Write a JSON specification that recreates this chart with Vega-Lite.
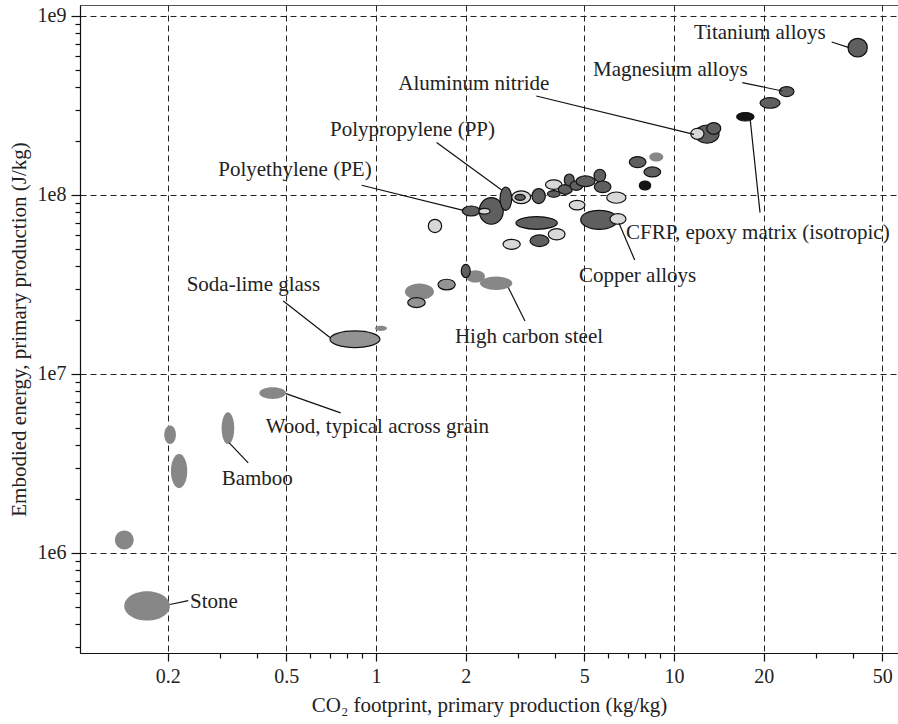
{
  "$schema": "https://vega.github.io/schema/vega-lite/v6.json",
  "width": 818,
  "height": 648,
  "autosize": {"type": "none"},
  "padding": {"left": 80, "top": 5, "right": 0, "bottom": 71},
  "background": "white",
  "config": {
    "view": {"stroke": "#555", "strokeWidth": 1},
    "font": "Liberation Serif"
  },
  "datasets": {
    "materials": [
      {"group": "natural", "co2_lo": 0.143, "co2_hi": 0.2035, "e_lo": 4.19e5, "e_hi": 6.11e5},
      {"group": "natural", "co2_lo": 0.1331, "co2_hi": 0.1538, "e_lo": 1.045e6, "e_hi": 1.334e6},
      {"group": "natural", "co2_lo": 0.1948, "co2_hi": 0.2132, "e_lo": 4.06e6, "e_hi": 5.15e6},
      {"group": "natural", "co2_lo": 0.2051, "co2_hi": 0.2327, "e_lo": 2.299e6, "e_hi": 3.573e6},
      {"group": "natural", "co2_lo": 0.3035, "co2_hi": 0.3345, "e_lo": 4.06e6, "e_hi": 6.11e6},
      {"group": "natural", "co2_lo": 0.4059, "co2_hi": 0.499, "e_lo": 7.25e6, "e_hi": 8.43e6},
      {"group": "glass", "co2_lo": 0.7008, "co2_hi": 1.031, "e_lo": 1.405e7, "e_hi": 1.739e7},
      {"group": "natural", "co2_lo": 0.992, "co2_hi": 1.089, "e_lo": 1.739e7, "e_hi": 1.859e7},
      {"group": "natural", "co2_lo": 1.251, "co2_hi": 1.565, "e_lo": 2.591e7, "e_hi": 3.199e7},
      {"group": "glass", "co2_lo": 1.278, "co2_hi": 1.463, "e_lo": 2.35e7, "e_hi": 2.672e7},
      {"group": "glass", "co2_lo": 1.615, "co2_hi": 1.845, "e_lo": 2.947e7, "e_hi": 3.381e7},
      {"group": "natural", "co2_lo": 2.004, "co2_hi": 2.321, "e_lo": 3.24e7, "e_hi": 3.796e7},
      {"group": "metals & polymers", "co2_lo": 1.933, "co2_hi": 2.072, "e_lo": 3.455e7, "e_hi": 4.1e7},
      {"group": "natural", "co2_lo": 2.234, "co2_hi": 2.867, "e_lo": 2.947e7, "e_hi": 3.5e7},
      {"group": "ceramics", "co2_lo": 1.498, "co2_hi": 1.661, "e_lo": 6.166e7, "e_hi": 7.313e7},
      {"group": "metals & polymers", "co2_lo": 1.948, "co2_hi": 2.234, "e_lo": 7.63e7, "e_hi": 8.678e7},
      {"group": "metals & polymers", "co2_lo": 2.222, "co2_hi": 2.674, "e_lo": 6.86e7, "e_hi": 9.67e7},
      {"group": "ceramics", "co2_lo": 2.216, "co2_hi": 2.413, "e_lo": 7.83e7, "e_hi": 8.427e7},
      {"group": "metals & polymers", "co2_lo": 2.607, "co2_hi": 2.854, "e_lo": 8.21e7, "e_hi": 1.108e8},
      {"group": "ceramics", "co2_lo": 2.854, "co2_hi": 3.305, "e_lo": 8.95e7, "e_hi": 1.053e8},
      {"group": "metals & polymers", "co2_lo": 2.927, "co2_hi": 3.17, "e_lo": 9.34e7, "e_hi": 1.009e8},
      {"group": "metals & polymers", "co2_lo": 3.339, "co2_hi": 3.7, "e_lo": 8.95e7, "e_hi": 1.086e8},
      {"group": "metals & polymers", "co2_lo": 2.95, "co2_hi": 4.059, "e_lo": 6.43e7, "e_hi": 7.57e7},
      {"group": "ceramics", "co2_lo": 3.787, "co2_hi": 4.308, "e_lo": 5.61e7, "e_hi": 6.49e7},
      {"group": "metals & polymers", "co2_lo": 3.287, "co2_hi": 3.807, "e_lo": 5.15e7, "e_hi": 5.98e7},
      {"group": "ceramics", "co2_lo": 2.668, "co2_hi": 3.049, "e_lo": 4.97e7, "e_hi": 5.655e7},
      {"group": "ceramics", "co2_lo": 3.706, "co2_hi": 4.209, "e_lo": 1.076e8, "e_hi": 1.213e8},
      {"group": "metals & polymers", "co2_lo": 3.763, "co2_hi": 4.144, "e_lo": 9.71e7, "e_hi": 1.058e8},
      {"group": "metals & polymers", "co2_lo": 4.09, "co2_hi": 4.557, "e_lo": 1.009e8, "e_hi": 1.143e8},
      {"group": "metals & polymers", "co2_lo": 4.284, "co2_hi": 4.628, "e_lo": 1.123e8, "e_hi": 1.31e8},
      {"group": "metals & polymers", "co2_lo": 4.477, "co2_hi": 4.939, "e_lo": 1.062e8, "e_hi": 1.197e8},
      {"group": "metals & polymers", "co2_lo": 4.69, "co2_hi": 5.431, "e_lo": 1.114e8, "e_hi": 1.277e8},
      {"group": "metals & polymers", "co2_lo": 5.389, "co2_hi": 5.899, "e_lo": 1.182e8, "e_hi": 1.392e8},
      {"group": "metals & polymers", "co2_lo": 5.402, "co2_hi": 6.146, "e_lo": 1.031e8, "e_hi": 1.197e8},
      {"group": "ceramics", "co2_lo": 5.945, "co2_hi": 6.901, "e_lo": 8.99e7, "e_hi": 1.039e8},
      {"group": "ceramics", "co2_lo": 4.453, "co2_hi": 5.027, "e_lo": 8.25e7, "e_hi": 9.34e7},
      {"group": "metals & polymers", "co2_lo": 4.864, "co2_hi": 6.474, "e_lo": 6.43e7, "e_hi": 8.21e7},
      {"group": "ceramics", "co2_lo": 6.099, "co2_hi": 6.901, "e_lo": 6.86e7, "e_hi": 7.87e7},
      {"group": "metals & polymers", "co2_lo": 7.079, "co2_hi": 8.054, "e_lo": 1.423e8, "e_hi": 1.639e8},
      {"group": "natural", "co2_lo": 8.263, "co2_hi": 9.207, "e_lo": 1.537e8, "e_hi": 1.726e8},
      {"group": "metals & polymers", "co2_lo": 7.93, "co2_hi": 9.024, "e_lo": 1.261e8, "e_hi": 1.434e8},
      {"group": "composites", "co2_lo": 7.648, "co2_hi": 8.353, "e_lo": 1.066e8, "e_hi": 1.197e8},
      {"group": "metals & polymers", "co2_lo": 11.76, "co2_hi": 14.16, "e_lo": 1.945e8, "e_hi": 2.461e8},
      {"group": "ceramics", "co2_lo": 11.38, "co2_hi": 12.61, "e_lo": 2.047e8, "e_hi": 2.358e8},
      {"group": "metals & polymers", "co2_lo": 12.88, "co2_hi": 14.35, "e_lo": 2.183e8, "e_hi": 2.538e8},
      {"group": "composites", "co2_lo": 16.23, "co2_hi": 18.55, "e_lo": 2.591e8, "e_hi": 2.886e8},
      {"group": "metals & polymers", "co2_lo": 19.44, "co2_hi": 22.69, "e_lo": 3.051e8, "e_hi": 3.5e8},
      {"group": "metals & polymers", "co2_lo": 22.57, "co2_hi": 25.27, "e_lo": 3.546e8, "e_hi": 4.033e8},
      {"group": "metals & polymers", "co2_lo": 38.36, "co2_hi": 44.54, "e_lo": 5.902e8, "e_hi": 7.506e8}
    ],
    "leaders": [
      {"x1": 33.82, "y1": 7.155e8, "x2": 38.66, "y2": 6.66e8},
      {"x1": 16.95, "y1": 4.245e8, "x2": 23.09, "y2": 3.81e8},
      {"x1": 3.451, "y1": 3.574e8, "x2": 11.67, "y2": 2.183e8},
      {"x1": 1.598, "y1": 1.962e8, "x2": 2.641, "y2": 1.066e8},
      {"x1": 0.8952, "y1": 1.133e8, "x2": 1.963, "y2": 8.21e7},
      {"x1": 0.4886, "y1": 2.558e7, "x2": 0.7008, "y2": 1.597e7},
      {"x1": 3.162, "y1": 1.978e7, "x2": 2.78, "y2": 3.039e7},
      {"x1": 7.381, "y1": 4.335e7, "x2": 6.54, "y2": 6.95e7},
      {"x1": 17.99, "y1": 2.706e8, "x2": 19.44, "y2": 7.97e7},
      {"x1": 0.499, "y1": 7.77e6, "x2": 0.761, "y2": 6.056e6},
      {"x1": 0.3218, "y1": 4.118e6, "x2": 0.3727, "y2": 3.183e6},
      {"x1": 0.2036, "y1": 5.15e5, "x2": 0.2345, "y2": 5.42e5}
    ],
    "labels": [
      {"label": "Titanium alloys", "x": 11.67, "y": 7.41e8},
      {"label": "Magnesium alloys", "x": 5.348, "y": 4.603e8},
      {"label": "Aluminum nitride", "x": 1.188, "y": 3.87e8},
      {"label": "Polypropylene (PP)", "x": 0.7008, "y": 2.128e8},
      {"label": "Polyethylene (PE)", "x": 0.2957, "y": 1.272e8},
      {"label": "Soda-lime glass", "x": 0.2316, "y": 2.897e7},
      {"label": "High carbon steel", "x": 1.841, "y": 1.484e7},
      {"label": "Copper alloys", "x": 4.8, "y": 3.253e7},
      {"label": "CFRP, epoxy matrix (isotropic)", "x": 6.901, "y": 5.655e7},
      {"label": "Wood, typical across grain", "x": 0.4265, "y": 4.665e6},
      {"label": "Bamboo", "x": 0.3035, "y": 2.389e6},
      {"label": "Stone", "x": 0.2376, "y": 4.91e5}
    ]
  },
  "layer": [
    {
      "data": {"name": "materials"},
      "mark": {
        "type": "point",
        "filled": true,
        "opacity": 1,
        "size": 4,
        "strokeWidth": 1.2,
        "shape": {"expr": "'M0,' + (scale('y', datum.e_lo) - scale('y', datum.e_hi)) / 2 + ' A' + (scale('x', datum.co2_hi) - scale('x', datum.co2_lo)) / 2 + ',' + (scale('y', datum.e_lo) - scale('y', datum.e_hi)) / 2 + ' 0 1 0 ' + (scale('x', datum.co2_hi) - scale('x', datum.co2_lo)) + ',' + (scale('y', datum.e_lo) - scale('y', datum.e_hi)) / 2 + ' A' + (scale('x', datum.co2_hi) - scale('x', datum.co2_lo)) / 2 + ',' + (scale('y', datum.e_lo) - scale('y', datum.e_hi)) / 2 + ' 0 1 0 0,' + (scale('y', datum.e_lo) - scale('y', datum.e_hi)) / 2 + ' Z'"}
      },
      "encoding": {
        "x": {
          "field": "co2_lo", "type": "quantitative",
          "scale": {"type": "log", "domain": [0.1016, 56.45], "nice": false},
          "axis": {
            "orient": "bottom",
            "values": [0.2, 0.5, 1, 2, 5, 10, 20, 50],
            "format": "~g",
            "grid": true, "gridDash": [6, 4], "gridColor": "#222", "gridWidth": 1, "gridOpacity": 1,
            "tickSize": 8, "tickColor": "#111", "tickWidth": 1.2,
            "domainColor": "#111", "domainWidth": 1.2,
            "labelFont": "Liberation Serif", "labelFontSize": 20, "labelColor": "#222", "labelPadding": 5, "labelFlush": false,
            "title": "CO₂ footprint, primary production (kg/kg)",
            "titleFont": "Liberation Serif", "titleFontSize": 21, "titleFontWeight": "normal", "titleColor": "#222", "titlePadding": 8
          }
        },
        "y": {
          "field": "e_hi", "type": "quantitative",
          "scale": {"type": "log", "domain": [2.76e5, 1.152e9], "nice": false},
          "axis": {
            "orient": "left",
            "values": [1e6, 1e7, 1e8, 1e9],
            "labelExpr": "'1e' + round(log(datum.value) / LN10)",
            "grid": true, "gridDash": [6, 4], "gridColor": "#222", "gridWidth": 1, "gridOpacity": 1,
            "tickSize": 9, "tickColor": "#111", "tickWidth": 1.2,
            "domainColor": "#111", "domainWidth": 1.2,
            "labelFont": "Liberation Serif", "labelFontSize": 20, "labelColor": "#222", "labelPadding": 5, "labelFlush": false,
            "title": "Embodied energy, primary production (J/kg)",
            "titleFont": "Liberation Serif", "titleFontSize": 21, "titleFontWeight": "normal", "titleColor": "#222", "titlePadding": 8
          }
        },
        "fill": {
          "field": "group", "type": "nominal", "legend": null,
          "scale": {"domain": ["metals & polymers", "ceramics", "composites", "natural", "glass"],
                    "range": ["#5f5f5f", "#d8d8d8", "#141414", "#878787", "#939393"]}
        },
        "stroke": {
          "field": "group", "type": "nominal", "legend": null,
          "scale": {"domain": ["metals & polymers", "ceramics", "composites", "natural", "glass"],
                    "range": ["#111111", "#111111", "#111111", "transparent", "#111111"]}
        }
      }
    },
    {
      "data": {"name": "leaders"},
      "mark": {"type": "rule", "color": "#111", "strokeWidth": 1.2},
      "encoding": {
        "x": {
          "field": "x1", "type": "quantitative",
          "axis": {
            "orient": "bottom",
            "values": [0.3, 0.4, 0.6, 0.7, 0.8, 0.9, 3, 4, 6, 7, 8, 9, 30, 40],
            "labels": false, "grid": false, "domain": false, "title": null,
            "tickSize": 5, "tickColor": "#111", "tickWidth": 1.2
          }
        },
        "x2": {"field": "x2"},
        "y": {
          "field": "y1", "type": "quantitative",
          "axis": {
            "orient": "left",
            "values": [3e5, 4e5, 5e5, 6e5, 7e5, 8e5, 9e5, 2e6, 3e6, 4e6, 5e6, 6e6, 7e6, 8e6, 9e6, 2e7, 3e7, 4e7, 5e7, 6e7, 7e7, 8e7, 9e7, 2e8, 3e8, 4e8, 5e8, 6e8, 7e8, 8e8, 9e8],
            "labels": false, "grid": false, "domain": false, "title": null,
            "tickSize": 5, "tickColor": "#111", "tickWidth": 1.2
          }
        },
        "y2": {"field": "y2"}
      }
    },
    {
      "data": {"name": "labels"},
      "mark": {"type": "text", "align": "left", "baseline": "alphabetic", "fontSize": 21, "font": "Liberation Serif", "color": "#222"},
      "encoding": {
        "x": {"field": "x", "type": "quantitative", "axis": null},
        "y": {"field": "y", "type": "quantitative", "axis": null},
        "text": {"field": "label", "type": "nominal"}
      }
    }
  ],
  "resolve": {"axis": {"x": "independent", "y": "independent"}}
}
